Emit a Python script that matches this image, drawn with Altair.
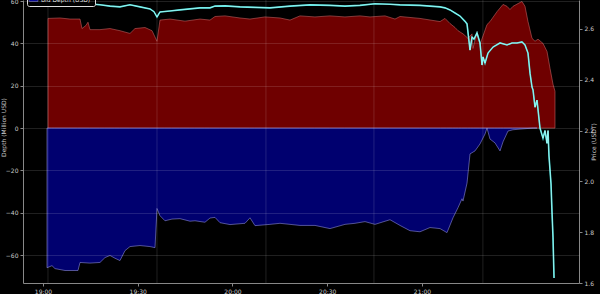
import altair as alt
import pandas as pd

# minutes after 19:00 and depth (million USD)
ask_min = [1.58, 5.38, 8.55, 11.72, 12.35, 13.62, 14.25, 14.88, 18.05, 21.22, 24.38, 27.55, 29.13, 32.30,
           34.52, 36.10, 37.05, 40.22, 44.97, 49.72, 52.88, 54.47, 57.63, 62.38, 65.55, 70.30, 75.05,
           78.22, 81.38, 86.13, 90.88, 95.63, 100.38, 103.55, 108.30, 111.47, 113.05, 119.38, 125.72,
           127.30, 128.88, 130.47, 131.42, 133.00, 134.58, 135.85, 136.17, 137.43, 138.38, 139.33,
           140.60, 141.55, 143.77, 145.67, 146.93, 147.88, 148.83, 150.42, 151.68, 152.63, 153.58,
           154.85, 155.80, 156.75, 158.33, 159.60, 160.55, 161.50, 162.13]
ask_val = [51.8, 52.0, 51.5, 51.5, 47.0, 48.5, 50.0, 46.5, 46.5, 47.0, 46.0, 44.7, 47.0, 47.5,
           46.0, 41.0, 51.0, 51.5, 50.5, 51.5, 51.0, 52.7, 53.0, 52.0, 51.5, 52.5, 52.0,
           51.0, 53.0, 52.5, 53.0, 52.5, 53.0, 52.5, 53.0, 51.5, 52.7, 51.8, 50.3,
           51.8, 49.4, 47.5, 46.0, 44.5, 42.4, 44.5, 37.6, 45.6, 39.5, 43.5,
           48.9, 50.3, 55.0, 58.4, 57.5, 56.0, 57.5, 58.8, 59.8, 57.5, 50.3,
           42.4, 41.0, 42.0, 40.0, 36.2, 28.2, 20.7, 17.4]

bid_min = [1.27, 2.85, 3.80, 6.97, 11.08, 11.72, 14.88, 18.05, 19.63, 21.22, 22.80, 24.38, 25.97,
           27.55, 30.72, 33.88, 35.47, 36.10, 37.05, 38.63, 40.85, 43.38, 46.55, 48.13, 51.30,
           52.88, 54.47, 56.05, 59.22, 63.97, 65.55, 67.13, 71.88, 75.05, 78.22, 81.38, 86.13,
           90.88, 95.63, 98.80, 101.97, 105.13, 109.88, 113.05, 116.22, 119.38, 122.55, 125.72,
           127.93, 129.83, 131.42, 132.68, 133.00, 134.27, 135.22, 136.80, 138.38, 139.97, 140.60,
           141.55, 143.13, 144.72, 145.67, 147.25, 148.83, 151.05, 155.17, 156.43]
bid_val = [-66.0, -65.0, -66.4, -67.3, -67.3, -63.5, -63.8, -63.5, -61.2, -60.2, -61.5, -62.6, -57.9,
           -56.0, -55.5, -56.0, -56.5, -38.0, -41.4, -43.8, -43.0, -42.8, -44.0, -43.8, -44.5,
           -42.5, -42.2, -44.7, -45.6, -45.0, -42.4, -46.1, -45.5, -45.0, -45.5, -46.0, -46.0,
           -47.5, -45.5, -45.0, -44.2, -45.5, -43.3, -46.0, -48.5, -49.0, -47.0, -47.5,
           -49.4, -42.4, -37.6, -33.4, -34.5, -26.0, -12.2, -10.8, -7.5, -2.8, 0.0,
           -5.2, -7.0, -10.8, -6.5, -1.4, -0.8, -0.5, 0.0, 0.0]

# price (USDT)
price_min = [1.27, 5.38, 10.13, 14.25, 18.05, 21.22, 24.38, 27.55, 30.72, 33.88, 35.15, 36.10, 37.05,
             40.22, 43.38, 46.55, 49.72, 52.88, 54.47, 57.63, 62.38, 67.13, 71.88, 78.22, 84.55,
             90.88, 95.63, 100.38, 105.13, 109.88, 113.05, 119.38, 125.72, 127.30, 128.88, 130.47,
             132.05, 133.63, 134.27, 135.22, 135.85, 136.48, 137.43, 138.38, 139.02, 139.33, 139.97,
             140.92, 142.50, 144.72, 146.93, 148.52, 150.10, 151.68, 152.63, 153.58, 154.22, 154.85,
             155.17, 155.80, 156.43, 157.38, 158.33, 158.97, 159.60, 159.92, 160.23, 160.87, 161.18,
             161.50, 161.82]
price_val = [2.700, 2.700, 2.698, 2.699, 2.695, 2.690, 2.687, 2.695, 2.687, 2.679, 2.668, 2.647, 2.667,
             2.671, 2.675, 2.679, 2.683, 2.683, 2.690, 2.691, 2.687, 2.685, 2.683, 2.690, 2.695,
             2.693, 2.690, 2.693, 2.699, 2.697, 2.695, 2.693, 2.687, 2.683, 2.675, 2.663,
             2.651, 2.630, 2.620, 2.517, 2.568, 2.560, 2.584, 2.545, 2.458, 2.490, 2.466,
             2.505, 2.529, 2.545, 2.537, 2.545, 2.545, 2.549, 2.537, 2.505, 2.426, 2.371,
             2.360, 2.292, 2.320, 2.210, 2.170, 2.200, 2.150, 2.200, 2.100, 1.990, 1.880,
             1.780, 1.620]

series_names = ["Ask Depth (USD)", "Bid Depth (USD)"]
x_ticks = [0, 30, 60, 90, 120]
x_tick_labels = ["19:00", "19:30", "20:00", "20:30", "21:00"]
grid_min = [1.58, 36.10, 70.60, 104.80, 139.30]
depth_ticks = [-60, -40, -20, 0, 20, 40, 60]
price_ticks = [1.6, 1.8, 2.0, 2.2, 2.4, 2.6]

depth_df = pd.concat([
    pd.DataFrame({"t": ask_min, "v": ask_val, "s": series_names[0]}),
    pd.DataFrame({"t": bid_min, "v": bid_val, "s": series_names[1]}),
], ignore_index=True)
price_df = pd.DataFrame({"t": price_min, "p": price_val})
grid_df = pd.DataFrame({"t": grid_min})

FONT = "DejaVu Sans"
label_expr = "[" + ",".join("'%s'" % s for s in x_tick_labels) + "][round(datum.value/30)]"
xscale = alt.Scale(domain=[-6.33, 169.73], nice=False, zero=False)
x_axis = alt.Axis(values=x_ticks, labelExpr=label_expr, title=None, grid=False,
                  labelFontSize=6, labelColor="#cccccc", domainColor="#888888",
                  tickColor="#888888", tickSize=3, labelPadding=2, labelFont=FONT)
xenc = alt.X("t:Q", scale=xscale, axis=x_axis, title=None)

depth_scale = alt.Scale(domain=[-73.2, 60.5], nice=False, zero=False)
depth_axis = alt.Axis(values=depth_ticks, title="Depth (Million USD)", grid=True,
                      gridColor="white", gridOpacity=0.18, gridWidth=0.7, zindex=1,
                      labelFontSize=6, labelColor="#cccccc", domainColor="#888888",
                      tickColor="#888888", tickSize=3, labelPadding=2, labelFont=FONT,
                      titleFontSize=6, titleColor="#cccccc", titleFont=FONT, titleFontWeight="normal",
                      titleAngle=270, titleX=-17, titleY=127)
yd = alt.Y("v:Q", scale=depth_scale, axis=depth_axis, title="Depth (Million USD)", stack=None)

legend = alt.Legend(orient="none", legendX=4, legendY=-16, title=None, direction="vertical",
                    labelFontSize=6, labelColor="#dddddd", labelFont=FONT,
                    symbolType="M-1.4,-0.6H1.4V0.6H-1.4Z", symbolSize=40, symbolStrokeWidth=0.5,
                    symbolOpacity=1, fillColor="black", strokeColor="#dddddd", padding=3,
                    rowPadding=2, labelOffset=4, cornerRadius=2)
fill_enc = alt.Fill("s:N", scale=alt.Scale(domain=series_names, range=["#8b0000", "#00008b"]),
                    legend=legend, title=None)
stroke_enc = alt.Stroke("s:N", scale=alt.Scale(domain=series_names, range=["#c06060", "#8a8ad8"]),
                        legend=legend, title=None)

vgrid = alt.Chart(grid_df).mark_rule(color="white", opacity=0.18, strokeWidth=0.7).encode(x=xenc)

depth = alt.Chart(depth_df).mark_area(fillOpacity=0.8, strokeWidth=0.6).encode(
    x=xenc, y=yd, fill=fill_enc, stroke=stroke_enc, detail="s:N")

price_scale = alt.Scale(domain=[1.6, 2.714], nice=False, zero=False)
price_axis = alt.Axis(values=price_ticks, format=".1f", orient="right", title="Price (USDT)", grid=False,
                      labelFontSize=6, labelColor="#cccccc", domainColor="#888888",
                      tickColor="#888888", tickSize=3, labelPadding=2, labelFont=FONT,
                      titleFontSize=6, titleColor="#cccccc", titleFont=FONT, titleFontWeight="normal",
                      titleAngle=270, titleX=17)
yp = alt.Y("p:Q", scale=price_scale, axis=price_axis, title="Price (USDT)")
price_cyan = alt.Chart(price_df).mark_line(color="#45e3df", strokeWidth=1.6).encode(x=xenc, y=yp)
price_white = alt.Chart(price_df).mark_line(color="#e8ffff", strokeWidth=0.5).encode(x=xenc, y=yp)

depth_layer = alt.layer(depth, vgrid)
price_layer = alt.layer(price_cyan, price_white)

chart = alt.layer(depth_layer, price_layer).resolve_scale(y="independent").properties(
    width=556, height=283,
    autosize=alt.AutoSizeParams(type="none"),
    padding={"left": 23, "top": 0, "right": 21, "bottom": 11},
    background="black",
).configure_view(stroke=None, fill="black")

chart.save("out.html", embed_options={"renderer": "svg", "actions": False})
